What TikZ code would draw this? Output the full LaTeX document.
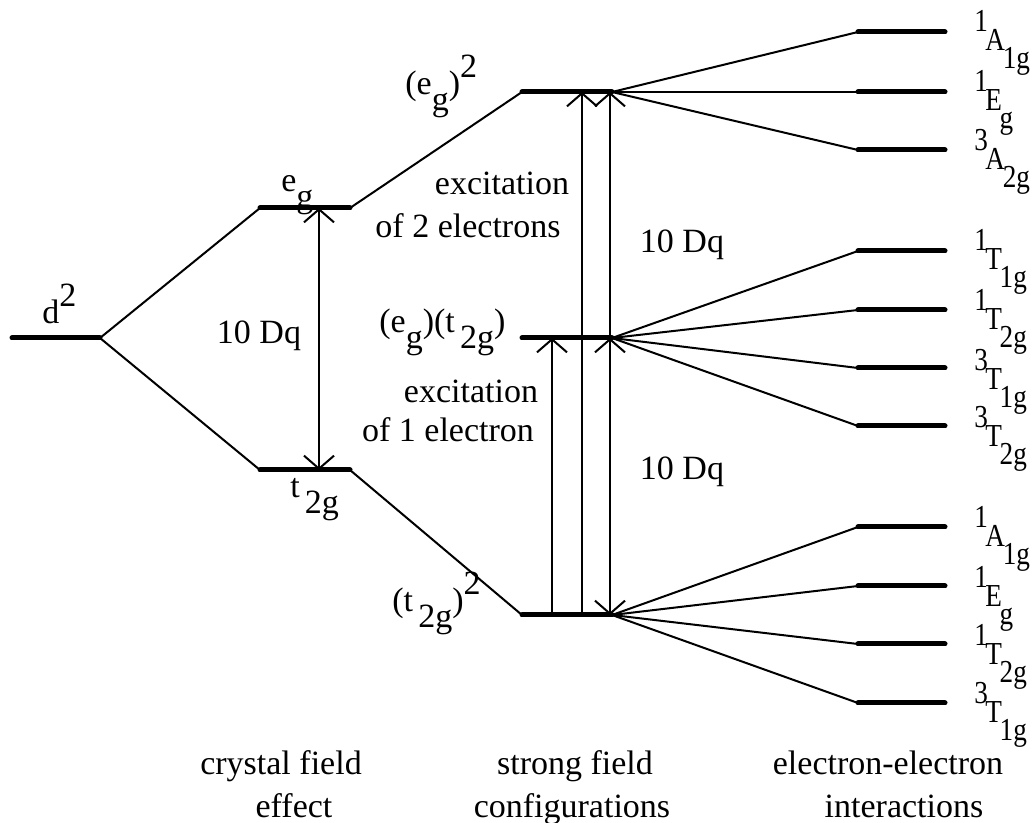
\documentclass[tikz,border=0pt]{standalone}
\usepackage{fontspec}
\setmainfont{Liberation Serif}
\usetikzlibrary{arrows.meta}
\newcommand{\up}[1]{\raisebox{0.5em}{#1}}
\newcommand{\dn}[1]{\raisebox{-0.45em}{#1}}
\newcommand{\term}[3]{\scalebox{0.85}[1]{\raisebox{0.6em}{#1}\kern-0.1em#2\kern-0.08em\raisebox{-0.55em}{#3}}}

\begin{document}
\begin{tikzpicture}[x=0.5pt,y=-0.5pt,
  every node/.style={inner sep=0pt, font=\fontsize{17pt}{20pt}\selectfont},
  termlbl/.style={anchor=base west, font=\fontsize{16pt}{19pt}\selectfont},
  lvl/.style={line width=2.5pt, line cap=round},
  tie/.style={line width=1pt},
  dq/.style={line width=1pt},
  >={Straight Barb[length=6.5pt,width=15pt]}]
\useasboundingbox (0,0) rectangle (1035,823);
% levels
\coordinate (d2a) at (12,338);
\coordinate (d2b) at (100,338);
\coordinate (ega) at (260,208);
\coordinate (egb) at (350,208);
\coordinate (ta) at (260,470);
\coordinate (tb) at (350,470);
\coordinate (eea) at (522,92);
\coordinate (eeb) at (612,92);
\coordinate (eta) at (522,338);
\coordinate (etb) at (612,338);
\coordinate (tta) at (522,615);
\coordinate (ttb) at (612,615);
\coordinate (ra1) at (858,32);
\coordinate (rb1) at (945,32);
\coordinate (ra2) at (858,92);
\coordinate (rb2) at (945,92);
\coordinate (ra3) at (858,150);
\coordinate (rb3) at (945,150);
\coordinate (ra4) at (858,251);
\coordinate (rb4) at (945,251);
\coordinate (ra5) at (858,310);
\coordinate (rb5) at (945,310);
\coordinate (ra6) at (858,368);
\coordinate (rb6) at (945,368);
\coordinate (ra7) at (858,426);
\coordinate (rb7) at (945,426);
\coordinate (ra8) at (858,527);
\coordinate (rb8) at (945,527);
\coordinate (ra9) at (858,586);
\coordinate (rb9) at (945,586);
\coordinate (ra10) at (858,644);
\coordinate (rb10) at (945,644);
\coordinate (ra11) at (858,703);
\coordinate (rb11) at (945,703);
\draw[lvl] (d2a) -- (d2b);
\draw[lvl] (ega) -- (egb);
\draw[lvl] (ta) -- (tb);
\draw[lvl] (eea) -- (eeb);
\draw[lvl] (eta) -- (etb);
\draw[lvl] (tta) -- (ttb);
\draw[lvl] (ra1) -- (rb1);
\draw[lvl] (ra2) -- (rb2);
\draw[lvl] (ra3) -- (rb3);
\draw[lvl] (ra4) -- (rb4);
\draw[lvl] (ra5) -- (rb5);
\draw[lvl] (ra6) -- (rb6);
\draw[lvl] (ra7) -- (rb7);
\draw[lvl] (ra8) -- (rb8);
\draw[lvl] (ra9) -- (rb9);
\draw[lvl] (ra10) -- (rb10);
\draw[lvl] (ra11) -- (rb11);
% correlation lines
\draw[tie] (d2b) -- (ega);
\draw[tie] (d2b) -- (ta);
\draw[tie] (egb) -- (eea);
\draw[tie] (tb) -- (tta);
\draw[tie] (eeb) -- (ra1);
\draw[tie] (eeb) -- (ra2);
\draw[tie] (eeb) -- (ra3);
\draw[tie] (etb) -- (ra4);
\draw[tie] (etb) -- (ra5);
\draw[tie] (etb) -- (ra6);
\draw[tie] (etb) -- (ra7);
\draw[tie] (ttb) -- (ra8);
\draw[tie] (ttb) -- (ra9);
\draw[tie] (ttb) -- (ra10);
\draw[tie] (ttb) -- (ra11);
% arrows
\coordinate (xa) at (319,0);
\coordinate (xb) at (552,0);
\coordinate (xc) at (582,0);
\coordinate (xd) at (610,0);
\draw[dq, <->] (xa |- ega) -- (xa |- ta);
\draw[dq, ->] (xb |- tta) -- (xb |- eta);
\draw[dq, ->] (xc |- tta) -- (xc |- eea);
\draw[dq, <->] (xd |- tta) -- (xd |- eta);
\draw[dq, ->] (xd |- eta) -- (xd |- eea);
% level labels
\node[anchor=base west] (ld2) at (42,324) {d\up{2}};
\node[anchor=base west] (leg) at (281,192) {e\dn{g}};
\node[anchor=base west] (lt) at (290,498) {t\hspace{0.15em}\dn{2g}};
\node[anchor=base west] (lee) at (405,95) {(e\dn{g})\up{2}};
\node[anchor=base west] (let) at (379,333) {(e\dn{g})(t\hspace{0.15em}\dn{2g})};
\node[anchor=base west] (ltt) at (392,612) {(t\hspace{0.15em}\dn{2g})\up{2}};
\node[anchor=base] (dqa) at (259,344) {10 Dq};
\node[anchor=base] (dqb) at (682,253) {10 Dq};
\node[anchor=base] (dqc) at (682,480) {10 Dq};
\node[anchor=base] (exa) at (502,195) {excitation};
\node[anchor=base] (exb) at (468,238) {of 2 electrons};
\node[anchor=base] (exc) at (471,403) {excitation};
\node[anchor=base] (exd) at (448,442) {of 1 electron};
% term labels
\node[termlbl] (t1) at (974,51) {\term{1}{A}{1g}};
\node[termlbl] (t2) at (974,111) {\term{1}{E}{g}};
\node[termlbl] (t3) at (974,170) {\term{3}{A}{2g}};
\node[termlbl] (t4) at (974,270) {\term{1}{T}{1g}};
\node[termlbl] (t5) at (974,330) {\term{1}{T}{2g}};
\node[termlbl] (t6) at (974,390) {\term{3}{T}{1g}};
\node[termlbl] (t7) at (974,447) {\term{3}{T}{2g}};
\node[termlbl] (t8) at (974,547) {\term{1}{A}{1g}};
\node[termlbl] (t9) at (974,607) {\term{1}{E}{g}};
\node[termlbl] (t10) at (974,665) {\term{1}{T}{2g}};
\node[termlbl] (t11) at (974,723) {\term{3}{T}{1g}};
% column captions
\node[anchor=base] (ca) at (281,775) {crystal field};
\node[anchor=base] (cb) at (294,818) {effect};
\node[anchor=base] (cc) at (575,775) {strong field};
\node[anchor=base] (cd) at (572,818) {configurations};
\node[anchor=base] (ce) at (888,775) {electron-electron};
\node[anchor=base] (cf) at (904,818) {interactions};
\end{tikzpicture}
\end{document}
